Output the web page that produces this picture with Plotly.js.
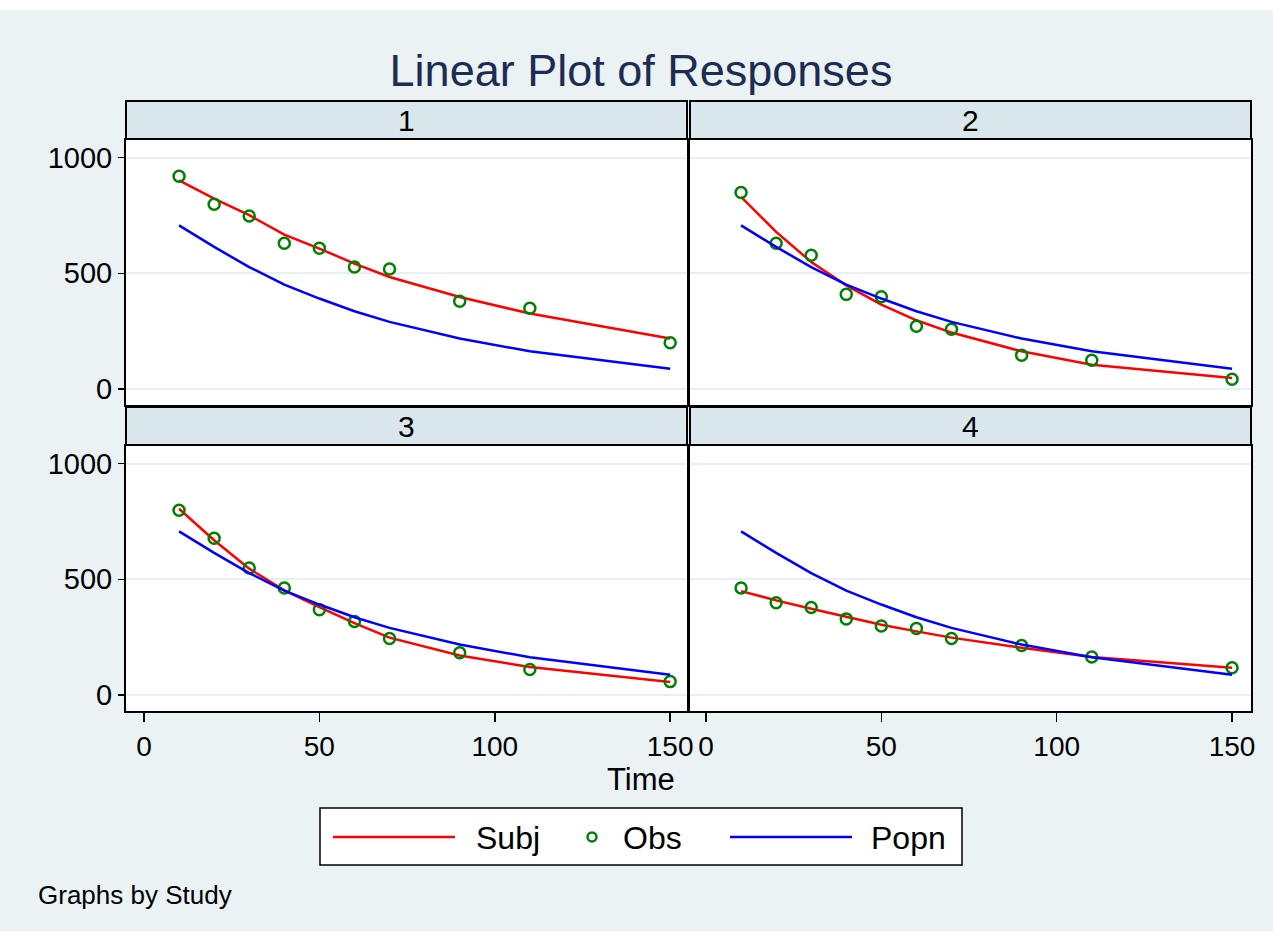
<!DOCTYPE html>
<html>
<head>
<meta charset="utf-8">
<script src="https://cdn.plot.ly/plotly-3.0.1.min.js"></script>
<style>html,body{margin:0;padding:0;background:#fff;}#chart{width:1273px;height:941px;}</style>
</head>
<body>
<div id="chart"></div>
<script>
// ---- data ----
var time = [10, 20, 30, 40, 50, 60, 70, 90, 110, 150];
var popn = [707, 614, 527, 451, 391, 336, 290, 218, 163, 88];
var subj1 = [902, 823, 751, 667, 607, 542, 484, 398, 326, 218];
var obs1  = [919, 798, 748, 630, 608, 527, 519, 379, 349, 200];
var subj2 = [830, 679, 549, 448, 365, 297, 244, 163, 105, 48];
var obs2  = [849, 630, 578, 409, 399, 271, 258, 146, 124, 42];
var subj3 = [805, 669, 546, 452, 380, 311, 248, 171, 121, 56];
var obs3  = [798, 677, 549, 462, 369, 318, 244, 183, 110, 58];
var subj4 = [449, 409, 373, 337, 304, 275, 248, 204, 164, 118];
var obs4  = [462, 399, 378, 329, 298, 288, 244, 214, 164, 118];
var studies = ["1", "2", "3", "4"];
var seriesNames = ["Subj", "Obs", "Popn"];
var xTicks = [0, 50, 100, 150];
var yTicks = [0, 500, 1000];

var subjAll = [subj1, subj2, subj3, subj4];
var obsAll = [obs1, obs2, obs3, obs4];

// ---- layout helpers ----
var W = 1273, H = 941;
function px(x) { return x / W; }
function py(y) { return 1 - y / H; }

var colX = [[126, 687], [690, 1251]];
var rowY = [[140, 405], [446, 711]];
var stripY = [[101, 139], [407, 445]];

var RED = "#FF0000", GREEN = "#008000", BLUE = "#0000FF";
var FONT = "Liberation Sans, Arial, sans-serif";

var traces = [];
for (var i = 0; i < 4; i++) {
  var ax = i === 0 ? "" : String(i + 1);
  traces.push({
    x: time, y: subjAll[i], type: "scatter", mode: "lines",
    name: seriesNames[0], showlegend: false,
    line: {color: RED, width: 2.5},
    xaxis: "x" + ax, yaxis: "y" + ax
  });
  traces.push({
    x: time, y: obsAll[i], type: "scatter", mode: "markers",
    name: seriesNames[1], showlegend: false,
    marker: {symbol: "circle-open", size: 11, color: GREEN, line: {width: 2.5, color: GREEN}},
    xaxis: "x" + ax, yaxis: "y" + ax
  });
  traces.push({
    x: time, y: popn, type: "scatter", mode: "lines",
    name: seriesNames[2], showlegend: false,
    line: {color: BLUE, width: 2.5},
    xaxis: "x" + ax, yaxis: "y" + ax
  });
}

var layout = {
  width: W, height: H,
  margin: {l: 0, r: 0, t: 0, b: 0},
  paper_bgcolor: "#EAF2F3",
  plot_bgcolor: "#FFFFFF",
  font: {family: FONT, color: "#000000", size: 28},
  title: {
    text: "Linear Plot of Responses",
    font: {family: FONT, size: 45, color: "#1c2c52"},
    x: px(641), xanchor: "center", xref: "paper",
    y: py(70), yanchor: "middle", yref: "paper"
  },
  showlegend: false,
  shapes: [
    {type: "rect", xref: "paper", yref: "paper", x0: 0, x1: 1, y0: py(0), y1: py(10), fillcolor: "#FFFFFF", line: {width: 0}, layer: "below"},
    {type: "rect", xref: "paper", yref: "paper", x0: 0, x1: 1, y0: py(931), y1: py(941), fillcolor: "#FFFFFF", line: {width: 0}, layer: "below"},
    // legend box and keys
    {type: "rect", xref: "paper", yref: "paper", x0: px(320), x1: px(962), y0: py(865), y1: py(808), fillcolor: "#FFFFFF", line: {color: "#000000", width: 1.5}},
    {type: "line", xref: "paper", yref: "paper", x0: px(333), x1: px(455), y0: py(837), y1: py(837), line: {color: RED, width: 2.5}},
    {type: "circle", xref: "paper", yref: "paper", x0: px(587.5), x1: px(596.5), y0: py(841.5), y1: py(832.5), line: {color: GREEN, width: 2.5}},
    {type: "line", xref: "paper", yref: "paper", x0: px(730), x1: px(852), y0: py(837), y1: py(837), line: {color: BLUE, width: 2.5}}
  ],
  annotations: [
    {text: "Time", xref: "paper", yref: "paper", x: px(641), y: py(779), xanchor: "center", yanchor: "middle", showarrow: false, font: {size: 31}},
    {text: "Graphs by Study", xref: "paper", yref: "paper", x: px(36), y: py(895), xanchor: "left", yanchor: "middle", showarrow: false, font: {size: 26}},
    {text: seriesNames[0], xref: "paper", yref: "paper", x: px(474), y: py(838), xanchor: "left", yanchor: "middle", showarrow: false, font: {size: 32}},
    {text: seriesNames[1], xref: "paper", yref: "paper", x: px(621), y: py(838), xanchor: "left", yanchor: "middle", showarrow: false, font: {size: 32}},
    {text: seriesNames[2], xref: "paper", yref: "paper", x: px(869), y: py(838), xanchor: "left", yanchor: "middle", showarrow: false, font: {size: 32}}
  ]
};

var xRanges = [[-5.13, 154.8], [-4.56, 155.4]];
var yRange = [-69, 1076];

for (var i = 0; i < 4; i++) {
  var c = i % 2, r = Math.floor(i / 2);
  var key = i === 0 ? "" : String(i + 1);
  var bottom = r === 1, left = c === 0;
  layout["xaxis" + key] = {
    domain: [px(colX[c][0]), px(colX[c][1])],
    anchor: "y" + key,
    range: xRanges[c],
    tickvals: xTicks,
    ticktext: xTicks.map(String),
    showticklabels: bottom,
    ticks: bottom ? "outside" : "",
    ticklen: 9, tickwidth: 1.5, tickcolor: "#000000",
    showgrid: false, zeroline: false,
    showline: true, mirror: true, linecolor: "#000000", linewidth: 2,
    tickfont: {size: 28}, fixedrange: true
  };
  layout["yaxis" + key] = {
    domain: [py(rowY[r][1]), py(rowY[r][0])],
    anchor: "x" + key,
    range: yRange,
    tickvals: yTicks,
    ticktext: yTicks.map(String),
    showticklabels: left,
    ticks: left ? "outside" : "",
    ticklen: 6, tickwidth: 1.5, tickcolor: "#000000",
    showgrid: true, gridcolor: "#E6EFF2", gridwidth: 2,
    zeroline: false,
    showline: true, mirror: true, linecolor: "#000000", linewidth: 2,
    tickfont: {size: 29}, fixedrange: true
  };
  layout.shapes.push({
    type: "rect", xref: "paper", yref: "paper",
    x0: px(colX[c][0]), x1: px(colX[c][1]),
    y0: py(stripY[r][1]), y1: py(stripY[r][0]),
    fillcolor: "#D9E6EB", line: {color: "#000000", width: 2}, layer: "below"
  });
  layout.annotations.push({
    text: studies[i], xref: "paper", yref: "paper",
    x: px((colX[c][0] + colX[c][1]) / 2), y: py((stripY[r][0] + stripY[r][1]) / 2),
    xanchor: "center", yanchor: "middle", showarrow: false, font: {size: 30}
  });
}

Plotly.newPlot("chart", traces, layout, {displayModeBar: false, staticPlot: true});
</script>
</body>
</html>
